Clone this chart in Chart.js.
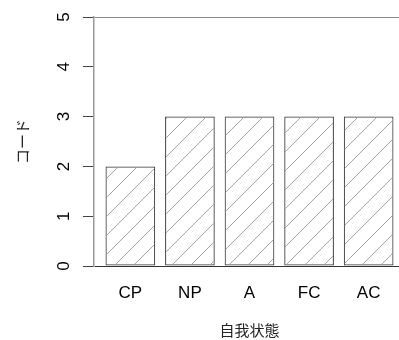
<!DOCTYPE html>
<html>
<head>
<meta charset="utf-8">
<script src="https://cdn.jsdelivr.net/npm/chart.js@4/dist/chart.umd.min.js"></script>
<style>
  html, body { margin: 0; padding: 0; background: #fff; overflow: hidden; }
  #wrap { width: 399px; height: 340px; overflow: hidden; position: relative; }
  canvas { display: block; }
</style>
</head>
<body>
<div id="wrap"><canvas id="chart" width="405" height="340"></canvas></div>
<script>
// Ego-state codes
const categories = ['CP', 'NP', 'A', 'FC', 'AC'];
const codeValues = [2, 3, 3, 3, 3];
const yTickValues = [0, 1, 2, 3, 4, 5];

const xTitle = '自我状態';
const yTitle = 'コード';

// barplot-style layout: unit-wide bars separated by 0.2 of a bar
const barWidth = 1;
const barSpace = 0.2;
const barCenters = categories.map((_, i) => barSpace + barWidth / 2 + i * (barWidth + barSpace));
const span = categories.length * (barWidth + barSpace) - barSpace;   // from first bar's left to last bar's right
const xMin = barSpace - span * 0.04;
const xMax = barSpace + span * 1.04;

const LATIN = '"Liberation Sans", Arial, sans-serif';
const CJK = '"Noto Sans CJK JP", "Noto Sans", sans-serif';

// diagonal hatch fill
function hatchPattern() {
  const s = 19;
  const c = document.createElement('canvas');
  c.width = s; c.height = s;
  const g = c.getContext('2d');
  g.strokeStyle = '#a3a3a3';
  g.lineWidth = 1;
  g.beginPath();
  g.moveTo(-2, s + 2); g.lineTo(s + 2, -2);
  g.moveTo(-2, 2); g.lineTo(2, -2);
  g.moveTo(s - 2, s + 2); g.lineTo(s + 2, s - 2);
  g.stroke();
  return g.createPattern(c, 'repeat');
}

const ctx = document.getElementById('chart').getContext('2d');
new Chart(ctx, {
  type: 'bar',
  data: {
    datasets: [{
      data: codeValues.map((v, i) => ({ x: barCenters[i], y: v })),
      backgroundColor: hatchPattern(),
      borderColor: '#333',
      borderWidth: 1,
      borderSkipped: false,
      categoryPercentage: 1,
      barPercentage: barWidth / (barWidth + barSpace)
    }]
  },
  options: {
    responsive: false,
    animation: false,
    devicePixelRatio: 1,
    layout: { padding: { top: 17, left: 0, right: 0, bottom: 0 } },
    plugins: { legend: { display: false }, tooltip: { enabled: false } },
    scales: {
      x: {
        type: 'linear',
        bounds: 'data',
        offset: false,
        min: xMin,
        max: xMax,
        grid: { display: false, drawTicks: false },
        border: { display: false },
        afterBuildTicks: s => { s.ticks = barCenters.map(v => ({ value: v })); },
        ticks: {
          autoSkip: false,
          maxRotation: 0,
          padding: 17,
          color: '#000',
          font: { family: LATIN, size: 17 },
          callback: (v, i) => categories[i]
        },
        title: {
          display: true,
          text: xTitle,
          color: '#222',
          font: { family: CJK, size: 15 },
          padding: { top: 0, bottom: 1 }
        },
        afterFit: s => { s.height = 74; s.paddingLeft = 0; s.paddingRight = 0; }
      },
      y: {
        min: yTickValues[0],
        max: yTickValues[yTickValues.length - 1],
        afterBuildTicks: s => { s.ticks = yTickValues.map(v => ({ value: v })); },
        grid: {
          color: c => c.tick && c.tick.value === yTickValues[0] ? '#333'
                    : c.tick && c.tick.value === yTickValues[yTickValues.length - 1] ? '#888'
                    : 'rgba(0,0,0,0)',
          tickColor: '#444',
          tickLength: 11,
          lineWidth: 1
        },
        border: { display: true, color: '#999', width: 1.5 },
        ticks: {
          minRotation: 90,
          maxRotation: 90,
          crossAlign: 'center',
          padding: 14,
          color: '#000',
          font: { family: LATIN, size: 17 }
        },
        title: {
          display: true,
          text: yTitle,
          color: '#222',
          font: { family: CJK, size: 15 },
          padding: { top: 13, bottom: 0 }
        },
        afterFit: s => { s.width = 94; s.paddingTop = 0; s.paddingBottom = 0; }
      }
    }
  }
});
</script>
</body>
</html>
